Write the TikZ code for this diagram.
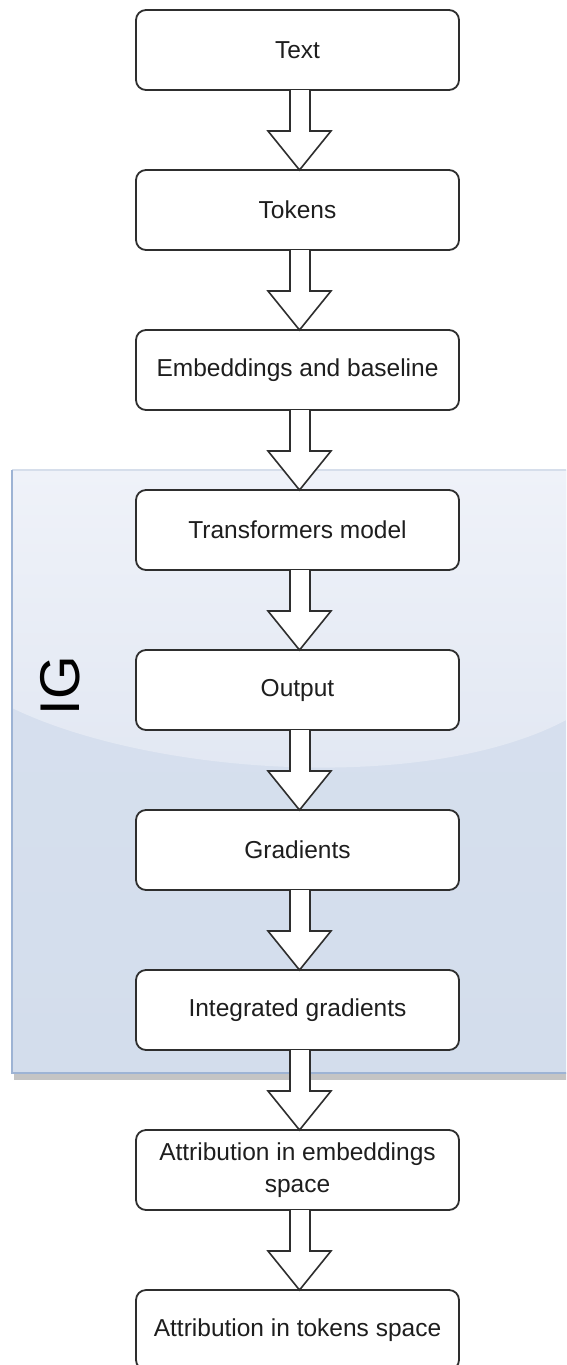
\documentclass[tikz,border=0pt]{standalone}
\usepackage{fontspec}
\setmainfont{Liberation Sans}
\usetikzlibrary{calc}

\definecolor{boxline}{HTML}{2E2E2E}
\definecolor{textcol}{HTML}{1E1E1E}
\definecolor{panelTop}{HTML}{EFF2F9}
\definecolor{panelMid}{HTML}{E1E7F2}
\definecolor{panelLow}{HTML}{D8E1EF}
\definecolor{panelBottom}{HTML}{D3DDEC}
\definecolor{panelEdge}{HTML}{9DB3D4}
\definecolor{panelTopEdge}{HTML}{D6DEEB}
\definecolor{shadowgray}{HTML}{C4C4C4}

% hollow block arrow from the bottom of one box to the top of the next
\newcommand\flowarrow[2]{%
  \draw[blockarrow]
    ($(#1.south)+(-7.5,0)$) -- ($(#2.north)+(-7.5,39)$)
    -- ($(#2.north)+(-29.5,39)$) -- ($(#2.north)+(2,0)$)
    -- ($(#2.north)+(33.5,39)$) -- ($(#2.north)+(12.5,39)$)
    -- ($(#1.south)+(12.5,0)$);}

\begin{document}
\begin{tikzpicture}[x=1pt,y=1pt,
  stepbox/.style={draw=boxline, line width=1.8pt, fill=white,
    rounded corners=10pt, minimum width=323pt, minimum height=80pt,
    inner sep=0pt, outer sep=0pt, align=center,
    font=\fontsize{24.5}{31.5}\selectfont, text=textcol},
  blockarrow/.style={draw=boxline, line width=1.6pt, fill=white,
    line join=miter},
  panellabel/.style={rotate=90, inner sep=0pt,
    font=\fontsize{56}{56}\selectfont, text=black}]

\useasboundingbox (0,0) rectangle (566,-1365);
\clip (0,0) rectangle (566,-1365);

% IG panel: shadow, body, glossy upper part and edges
\fill[shadowgray] (14,-1073) rectangle (570,-1080);
\shade[top color=panelLow, bottom color=panelBottom]
  (12,-470) rectangle (570,-1073);
\shade[top color=panelTop, bottom color=panelMid]
  (12,-470) -- (570,-470) -- (570,-718)
  .. controls (430,-795) and (150,-775) .. (12,-708) -- cycle;
\draw[panelTopEdge, line width=1.2pt] (12,-470) -- (570,-470);
\draw[panelEdge, line width=1.6pt] (12,-470) -- (12,-1073) -- (570,-1073);

\node[panellabel] (ig) at (60,-686) {IG};

% processing steps
\node[stepbox] (text)   at (297.5,-50)   {Text};
\node[stepbox] (tokens) at (297.5,-210)  {Tokens};
\node[stepbox] (emb)    at (297.5,-370)  {Embeddings and baseline};
\node[stepbox] (model)  at (297.5,-530)  {Transformers model};
\node[stepbox] (out)    at (297.5,-690)  {Output};
\node[stepbox] (grad)   at (297.5,-850)  {Gradients};
\node[stepbox] (intg)   at (297.5,-1010) {Integrated gradients};
\node[stepbox] (attre)  at (297.5,-1170) {Attribution in embeddings\\space};
\node[stepbox] (attrt)  at (297.5,-1330) {Attribution in tokens space};

% connectors
\flowarrow{text}{tokens}
\flowarrow{tokens}{emb}
\flowarrow{emb}{model}
\flowarrow{model}{out}
\flowarrow{out}{grad}
\flowarrow{grad}{intg}
\flowarrow{intg}{attre}
\flowarrow{attre}{attrt}

\end{tikzpicture}
\end{document}
